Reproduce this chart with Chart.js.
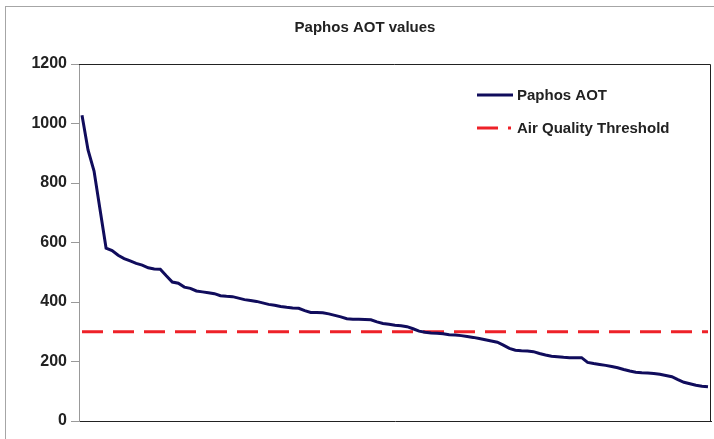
<!DOCTYPE html>
<html>
<head>
<meta charset="utf-8">
<script src="https://cdn.jsdelivr.net/npm/chart.js@4"></script>
<style>
  body { margin: 0; background: #fff; }
</style>
</head>
<body>
<canvas id="cchart" width="714" height="439"></canvas>
<script>
// values, sorted high to low
const paphosAOT = [
  1028, 911, 840, 710, 581, 573, 557, 546, 538, 530,
  524, 515, 511, 510, 488, 467, 463, 450, 446, 437,
  434, 431, 428, 421, 419, 418, 413, 408, 405, 402,
  397, 392, 389, 385, 382, 380, 379, 371, 365, 365,
  364, 360, 355, 350, 344, 342, 342, 341, 340, 333,
  328, 325, 322, 320, 317, 310, 302, 298, 296, 295,
  293, 290, 289, 287, 284, 281, 277, 273, 269, 265,
  255, 244, 238, 236, 235, 233, 227, 222, 218, 216,
  214, 213, 213, 213, 197, 193, 190, 187, 183, 179,
  173, 168, 164, 162, 161, 160, 157, 153, 149, 139,
  130, 125, 120, 117, 115
];
const thresholdValue = 300;
const yTicks = [0, 200, 400, 600, 800, 1000, 1200];
const titleText = 'Paphos AOT values';
const seriesNames = ['Paphos AOT', 'Air Quality Threshold'];

const labels = paphosAOT.map((v, i) => i + 1);
const threshold = labels.map(() => thresholdValue);

const chartDecor = {
  id: 'chartDecor',
  beforeDraw(chart) {
    const ctx = chart.ctx;
    ctx.save();
    ctx.fillStyle = '#fff';
    ctx.fillRect(0, 0, chart.width, chart.height);
    ctx.strokeStyle = '#a6a6a6';
    ctx.lineWidth = 1;
    ctx.strokeRect(5.5, 6.5, 900, 900);
    ctx.restore();
  },
  afterDraw(chart) {
    const ctx = chart.ctx;
    const a = chart.chartArea;
    ctx.save();
    // plot area frame top + right
    ctx.strokeStyle = '#222';
    ctx.lineWidth = 1;
    ctx.beginPath();
    ctx.moveTo(a.left, a.top + 0.5);
    ctx.lineTo(a.right - 0.5, a.top + 0.5);
    ctx.lineTo(a.right - 0.5, a.bottom);
    ctx.stroke();

    // title
    ctx.fillStyle = '#222';
    ctx.font = 'bold 15px "Liberation Sans", Arial, sans-serif';
    ctx.textAlign = 'center';
    ctx.textBaseline = 'middle';
    ctx.fillText(titleText, 365, 28);

    // legend inside plot
    const ds = chart.data.datasets;
    const rows = [95, 128];
    ds.forEach((d, i) => {
      const y = rows[i];
      ctx.strokeStyle = d.borderColor;
      ctx.lineWidth = 3;
      ctx.setLineDash(d.borderDash || []);
      ctx.beginPath();
      ctx.moveTo(477, y);
      ctx.lineTo(i === 0 ? 513 : 511, y);
      ctx.stroke();
      ctx.setLineDash([]);
      ctx.fillStyle = '#222';
      ctx.font = 'bold 15px "Liberation Sans", Arial, sans-serif';
      ctx.textAlign = 'left';
      ctx.fillText(d.label, 517, y + 1);
    });
    ctx.restore();
  }
};

const config = {
  type: 'line',
  data: {
    labels: labels,
    datasets: [{
      label: seriesNames[0],
      data: paphosAOT,
      borderColor: '#100c5c',
      borderWidth: 3,
      pointRadius: 0,
      tension: 0,
      fill: false
    }, {
      label: seriesNames[1],
      data: threshold,
      borderColor: '#ee2128',
      borderWidth: 3,
      borderDash: [21, 10],
      pointRadius: 0,
      tension: 0,
      fill: false
    }]
  },
  options: {
    responsive: false,
    animation: false,
    layout: { padding: { top: 64, right: 3, bottom: 0, left: 0 } },
    plugins: {
      legend: { display: false },
      title: { display: false },
      tooltip: { enabled: false }
    },
    scales: {
      x: {
        type: 'category',
        offset: true,
        ticks: { display: false },
        grid: { display: false },
        border: { color: '#222', width: 1 },
        afterFit(scale) { scale.height = 18; }
      },
      y: {
        min: 0,
        max: 1200,
        afterBuildTicks(scale) { scale.ticks = yTicks.map(v => ({ value: v })); },
        ticks: {
          color: '#222',
          padding: 4,
          font: { family: '"Liberation Sans", Arial, sans-serif', size: 16, weight: 'bold' },
          callback: v => String(v)
        },
        grid: { drawOnChartArea: false, drawTicks: true, tickLength: 8, color: '#999' },
        border: { color: '#999', width: 1 },
        afterFit(scale) { scale.width = 79; }
      }
    }
  },
  plugins: [chartDecor]
};

const chart = new Chart(document.getElementById('cchart').getContext('2d'), config);
</script>
</body>
</html>
